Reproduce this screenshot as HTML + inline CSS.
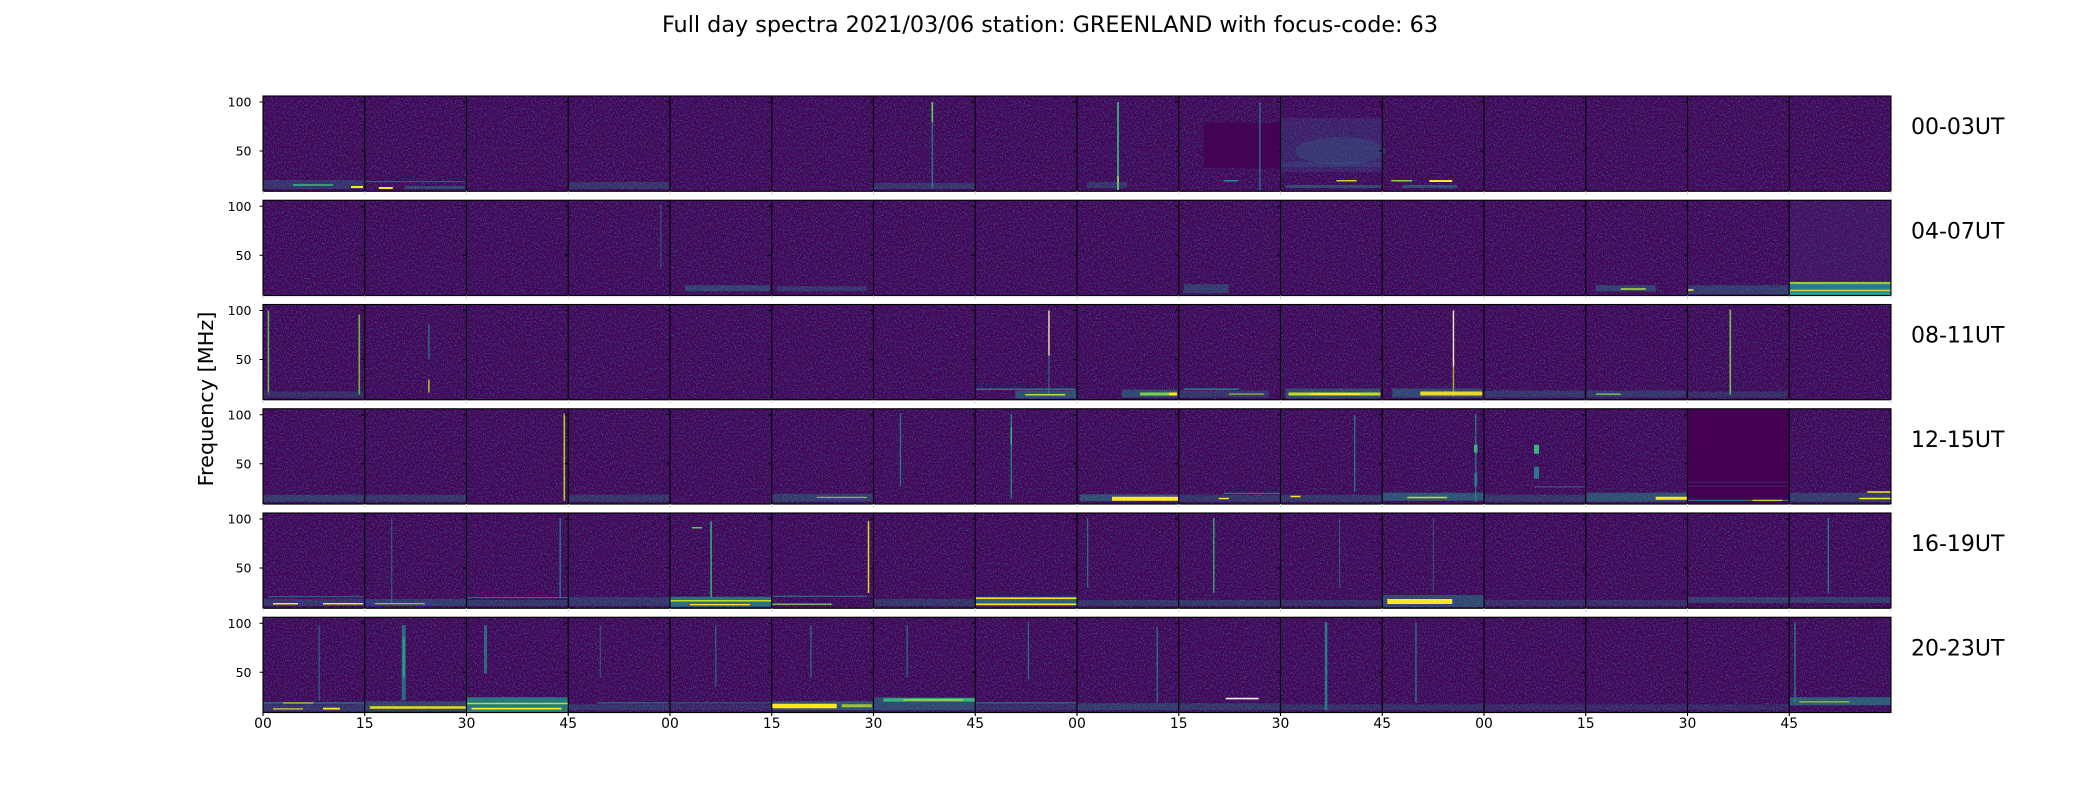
<!DOCTYPE html>
<html>
<head>
<meta charset="utf-8">
<style>
html,body{margin:0;padding:0;background:#fff;}
svg{display:block;}
text{font-family:"DejaVu Sans","Liberation Sans",sans-serif;fill:#000;}
</style>
</head>
<body>
<svg width="2100" height="800" viewBox="0 0 2100 800" xmlns="http://www.w3.org/2000/svg">
<defs>
<filter id="nz" x="0" y="0" width="100%" height="100%" color-interpolation-filters="sRGB">
<feTurbulence type="fractalNoise" baseFrequency="0.9 0.6" numOctaves="2" seed="7"/>
<feColorMatrix type="matrix" values="0 0 0 0 0.23  0 0 0 0 0.32  0 0 0 0 0.55  2.6 0 0 0 -1.15"/>
</filter>
</defs>
<rect x="0" y="0" width="2100" height="800" fill="#fff"/>

<!-- Title -->
<text x="1050" y="32" font-size="22.3" text-anchor="middle">Full day spectra 2021/03/06 station: GREENLAND with focus-code: 63</text>
<!-- Y label -->
<text transform="translate(213,399) rotate(-90)" font-size="20.8" text-anchor="middle">Frequency [MHz]</text>

<!-- Row backgrounds -->
<g fill="#440154">
<rect x="263" y="96" width="1628" height="95.3"/>
<rect x="263" y="200.25" width="1628" height="95.3"/>
<rect x="263" y="304.5" width="1628" height="95.3"/>
<rect x="263" y="408.75" width="1628" height="95.3"/>
<rect x="263" y="513" width="1628" height="95.3"/>
<rect x="263" y="617.25" width="1628" height="95.3"/>
</g>
<g filter="url(#nz)">
<rect x="263" y="96" width="1628" height="95.3" fill="#000"/>
</g>
<g filter="url(#nz)">
<rect x="263" y="200.25" width="1628" height="95.3" fill="#000"/>
</g>
<g filter="url(#nz)">
<rect x="263" y="304.5" width="1628" height="95.3" fill="#000"/>
</g>
<g filter="url(#nz)">
<rect x="263" y="408.75" width="1628" height="95.3" fill="#000"/>
</g>
<g filter="url(#nz)">
<rect x="263" y="513" width="1628" height="95.3" fill="#000"/>
</g>
<g filter="url(#nz)">
<rect x="263" y="617.25" width="1628" height="95.3" fill="#000"/>
</g>

<!-- ROW 0 -->
<g transform="translate(263,96)">
<rect x="0" y="84" width="101.75" height="9" fill="#2a788e" opacity="0.35"/>
<rect x="30" y="88" width="40" height="2" fill="#35b779" opacity="0.8"/>
<rect x="88" y="90" width="12" height="2" fill="#fde725"/>
</g>
<g transform="translate(364.75,96)">
<rect x="0" y="85" width="100" height="1.2" fill="#2a788e" opacity="0.7"/>
<rect x="14" y="91" width="14" height="2" fill="#fde725"/>
<rect x="40" y="90" width="60" height="3" fill="#21918c" opacity="0.45"/>
</g>
<g transform="translate(568.25,96)">
<rect x="0" y="86" width="101" height="7" fill="#21918c" opacity="0.3"/>
</g>
<g transform="translate(873.5,96)">
<rect x="58" y="6" width="1.6" height="86" fill="#21918c" opacity="0.7"/>
<rect x="58" y="6" width="1.6" height="20" fill="#5ec962"/>
<rect x="0" y="87" width="101" height="6" fill="#21918c" opacity="0.3"/>
</g>
<g transform="translate(1077,96)">
<rect x="40" y="6" width="2" height="88" fill="#35b779" opacity="0.85"/>
<rect x="40" y="80" width="2" height="13" fill="#7ad151"/>
<rect x="10" y="86" width="40" height="6" fill="#21918c" opacity="0.3"/>
</g>
<g transform="translate(1178.75,96)">
<rect x="25" y="27" width="76.75" height="45" fill="#440154" opacity="0.9"/>
<rect x="80.5" y="6" width="1.3" height="88" fill="#21918c" opacity="0.85"/>
<rect x="45" y="84" width="14" height="1.5" fill="#21918c"/>
</g>
<g transform="translate(1280.5,96)">
<rect x="0" y="22" width="101.75" height="54" fill="#3b528b" opacity="0.3"/>
<ellipse cx="60" cy="55" rx="45" ry="14" fill="#31688e" opacity="0.3"/>
<rect x="0" y="66" width="101.75" height="5" fill="#31688e" opacity="0.25"/>
<rect x="56" y="84" width="20" height="1.5" fill="#bddf26"/>
<rect x="5" y="89" width="95" height="3" fill="#21918c" opacity="0.45"/>
</g>
<g transform="translate(1382.25,96)">
<rect x="9" y="84" width="21" height="1.5" fill="#7ad151"/>
<rect x="47" y="84" width="23" height="2" fill="#fde725"/>
<rect x="20" y="89" width="55" height="3" fill="#21918c" opacity="0.5"/>
</g>

<!-- ROW 1 -->
<g transform="translate(568.25,200.25)">
<rect x="92" y="4" width="1.2" height="64" fill="#21918c" opacity="0.5"/>
</g>
<g transform="translate(670,200.25)">
<rect x="15" y="85" width="85" height="6" fill="#21918c" opacity="0.4"/>
</g>
<g transform="translate(771.75,200.25)">
<rect x="5" y="86" width="90" height="5" fill="#21918c" opacity="0.3"/>
</g>
<g transform="translate(1178.75,200.25)">
<rect x="5" y="84" width="45" height="9" fill="#21918c" opacity="0.35"/>
</g>
<g transform="translate(1585.75,200.25)">
<rect x="10" y="85" width="60" height="6" fill="#21918c" opacity="0.4"/>
<rect x="35" y="88" width="25" height="1.5" fill="#bddf26"/>
</g>
<g transform="translate(1687.5,200.25)">
<rect x="0" y="85" width="101" height="9" fill="#21918c" opacity="0.35"/>
<rect x="0" y="89" width="6" height="1.5" fill="#fde725"/>
</g>
<g transform="translate(1789.25,200.25)">
<rect x="0" y="0" width="101.75" height="80" fill="#472d7b" opacity="0.3"/>
<rect x="0" y="81.5" width="101.75" height="13.8" fill="#21918c" opacity="0.9"/>
<rect x="0" y="82" width="101.75" height="1.5" fill="#bddf26"/>
<rect x="0" y="86" width="101.75" height="1" fill="#31688e"/>
<rect x="0" y="89.5" width="101.75" height="1.5" fill="#fde725" opacity="0.8"/>
<rect x="0" y="93" width="101.75" height="1" fill="#35b779"/>
</g>

<!-- ROW 2 -->
<g transform="translate(263,304.5)">
<rect x="4.6" y="6" width="1.6" height="82" fill="#5ec962" opacity="0.9"/>
<rect x="95.5" y="10" width="1.6" height="80" fill="#7ad151" opacity="0.85"/>
<rect x="0" y="87" width="101" height="6" fill="#21918c" opacity="0.25"/>
</g>
<g transform="translate(364.75,304.5)">
<rect x="63.5" y="20" width="1.3" height="35" fill="#21918c" opacity="0.8"/>
<rect x="63.5" y="75" width="1.3" height="13" fill="#bddf26"/>
</g>
<g transform="translate(975.25,304.5)">
<rect x="73" y="6" width="1.4" height="45" fill="#e8e8b0"/>
<rect x="73" y="51" width="1.4" height="40" fill="#21918c" opacity="0.6"/>
<rect x="0" y="84" width="100" height="1.5" fill="#21918c" opacity="0.8"/>
<rect x="40" y="86" width="61" height="8" fill="#21918c" opacity="0.5"/>
<rect x="50" y="89.5" width="40" height="1.5" fill="#bddf26"/>
</g>
<g transform="translate(1077,304.5)">
<rect x="45" y="85" width="56" height="8" fill="#21918c" opacity="0.45"/>
<rect x="63" y="88" width="37" height="3" fill="#7ad151"/>
<rect x="92" y="88" width="8" height="3" fill="#fde725"/>
</g>
<g transform="translate(1178.75,304.5)">
<rect x="5" y="84" width="55" height="1.3" fill="#21918c"/>
<rect x="0" y="86" width="90" height="7" fill="#21918c" opacity="0.3"/>
<rect x="50" y="89" width="35" height="1.2" fill="#bddf26" opacity="0.8"/>
</g>
<g transform="translate(1280.5,304.5)">
<rect x="5" y="84" width="95" height="10" fill="#21918c" opacity="0.45"/>
<rect x="8" y="88" width="92" height="3" fill="#bddf26"/>
<rect x="30" y="88.5" width="50" height="2" fill="#fde725"/>
</g>
<g transform="translate(1382.25,304.5)">
<rect x="70.5" y="6" width="1.4" height="56" fill="#f0f0c8"/>
<rect x="70.5" y="62" width="1.4" height="30" fill="#bddf26" opacity="0.8"/>
<rect x="10" y="84" width="90" height="9" fill="#21918c" opacity="0.45"/>
<rect x="38" y="87" width="62" height="4" fill="#fde725" opacity="0.9"/>
</g>
<g transform="translate(1484,304.5)">
<rect x="0" y="86" width="100" height="7" fill="#21918c" opacity="0.3"/>
</g>
<g transform="translate(1585.75,304.5)">
<rect x="0" y="86" width="100" height="7" fill="#21918c" opacity="0.3"/>
<rect x="10" y="89" width="25" height="1.3" fill="#7ad151"/>
</g>
<g transform="translate(1687.5,304.5)">
<rect x="42" y="5" width="1.6" height="85" fill="#7ad151" opacity="0.9"/>
<rect x="0" y="87" width="100" height="6" fill="#21918c" opacity="0.25"/>
</g>

<!-- ROW 3 -->
<g transform="translate(263,408.75)">
<rect x="0" y="86" width="101" height="7" fill="#21918c" opacity="0.35"/>
</g>
<g transform="translate(364.75,408.75)">
<rect x="0" y="86" width="101" height="7" fill="#21918c" opacity="0.3"/>
</g>
<g transform="translate(466.5,408.75)">
<rect x="97" y="5" width="1.6" height="87" fill="#bddf26" opacity="0.9"/>
</g>
<g transform="translate(568.25,408.75)">
<rect x="0" y="86" width="101" height="7" fill="#21918c" opacity="0.3"/>
</g>
<g transform="translate(771.75,408.75)">
<rect x="0" y="85" width="101" height="8" fill="#21918c" opacity="0.35"/>
<rect x="45" y="88" width="50" height="1.3" fill="#bddf26" opacity="0.7"/>
</g>
<g transform="translate(873.5,408.75)">
<rect x="26.3" y="5" width="1.3" height="72" fill="#21918c" opacity="0.8"/>
</g>
<g transform="translate(975.25,408.75)">
<rect x="35.3" y="5" width="1.5" height="85" fill="#21918c" opacity="0.8"/>
<rect x="35.3" y="18" width="1.5" height="18" fill="#35b779"/>
</g>
<g transform="translate(1077,408.75)">
<rect x="3" y="85.5" width="98" height="7" fill="#21918c" opacity="0.5"/>
<rect x="35" y="88" width="66" height="4" fill="#fde725"/>
</g>
<g transform="translate(1178.75,408.75)">
<rect x="45" y="84" width="56" height="1.2" fill="#21918c" opacity="0.8"/>
<rect x="0" y="86" width="101" height="7" fill="#21918c" opacity="0.3"/>
<rect x="40" y="89" width="10" height="1.5" fill="#fde725"/>
</g>
<g transform="translate(1280.5,408.75)">
<rect x="73.5" y="6" width="1.3" height="77" fill="#21918c" opacity="0.8"/>
<rect x="0" y="86" width="101" height="7" fill="#21918c" opacity="0.3"/>
<rect x="10" y="87" width="10" height="1.5" fill="#fde725"/>
</g>
<g transform="translate(1382.25,408.75)">
<rect x="92.8" y="5" width="1.4" height="88" fill="#21918c" opacity="0.75"/>
<rect x="91.8" y="36" width="3.4" height="8" fill="#35b779"/>
<rect x="92" y="64" width="3" height="13" fill="#2a788e"/>
<rect x="0" y="84" width="101" height="8" fill="#21918c" opacity="0.55"/>
<rect x="25" y="88" width="40" height="1.5" fill="#bddf26"/>
</g>
<g transform="translate(1484,408.75)">
<rect x="50" y="36" width="5" height="9" fill="#35b779"/>
<rect x="50" y="58" width="5" height="12" fill="#2a788e"/>
<rect x="50" y="77.5" width="51" height="1.3" fill="#3b528b"/>
<rect x="0" y="86" width="101" height="7" fill="#21918c" opacity="0.3"/>
</g>
<g transform="translate(1585.75,408.75)">
<rect x="0" y="84" width="101" height="9" fill="#21918c" opacity="0.5"/>
<rect x="70" y="88" width="31" height="3" fill="#fde725"/>
</g>
<g transform="translate(1687.5,408.75)">
<rect x="0" y="0" width="101.75" height="95.3" fill="#440154"/>
<rect x="0" y="73" width="101.75" height="1" fill="#3b528b" opacity="0.5"/>
<rect x="0" y="77" width="101.75" height="1" fill="#3b528b" opacity="0.4"/>
<rect x="0" y="91" width="101.75" height="1.3" fill="#21918c" opacity="0.8"/>
<rect x="65" y="91" width="30" height="1.3" fill="#bddf26"/>
</g>
<g transform="translate(1789.25,408.75)">
<rect x="0" y="84" width="101.75" height="9" fill="#21918c" opacity="0.35"/>
<rect x="78" y="82.5" width="23.75" height="1.5" fill="#fde725"/>
<rect x="70" y="89" width="31.75" height="1.5" fill="#fde725"/>
</g>

<!-- ROW 4 -->
<g transform="translate(263,513)">
<rect x="5" y="83" width="96" height="1.3" fill="#21918c" opacity="0.6"/>
<rect x="0" y="86" width="101" height="7" fill="#21918c" opacity="0.3"/>
<rect x="10" y="90" width="25" height="1.5" fill="#fde725"/>
<rect x="60" y="90" width="40" height="1.5" fill="#fde725"/>
</g>
<g transform="translate(364.75,513)">
<rect x="26.3" y="5" width="1.3" height="85" fill="#21918c" opacity="0.55"/>
<rect x="0" y="86" width="101" height="7" fill="#21918c" opacity="0.35"/>
<rect x="10" y="90" width="50" height="1.3" fill="#bddf26" opacity="0.8"/>
</g>
<g transform="translate(466.5,513)">
<rect x="93" y="5" width="1.4" height="80" fill="#21918c" opacity="0.8"/>
<rect x="0" y="84" width="101" height="1.2" fill="#21918c" opacity="0.7"/>
<rect x="0" y="87" width="101" height="6" fill="#21918c" opacity="0.3"/>
</g>
<g transform="translate(568.25,513)">
<rect x="0" y="84" width="101" height="9" fill="#21918c" opacity="0.3"/>
</g>
<g transform="translate(670,513)">
<rect x="22" y="14" width="10" height="1.5" fill="#5ec962"/>
<rect x="40.3" y="8.5" width="1.6" height="76" fill="#35b779" opacity="0.9"/>
<rect x="0" y="83.7" width="101.75" height="10" fill="#21918c" opacity="0.75"/>
<rect x="0" y="87" width="101.75" height="1.5" fill="#bddf26"/>
<rect x="20" y="91" width="60" height="1.3" fill="#fde725"/>
</g>
<g transform="translate(771.75,513)">
<rect x="96" y="8" width="1.5" height="72" fill="#fde725" opacity="0.9"/>
<rect x="0" y="82.7" width="95" height="1.2" fill="#21918c" opacity="0.7"/>
<rect x="0" y="90.5" width="60" height="1.5" fill="#7ad151" opacity="0.9"/>
</g>
<g transform="translate(873.5,513)">
<rect x="0" y="86" width="101" height="7" fill="#21918c" opacity="0.3"/>
</g>
<g transform="translate(975.25,513)">
<rect x="0" y="83.7" width="101.75" height="9.5" fill="#21918c" opacity="0.65"/>
<rect x="0" y="84.5" width="101.75" height="1.5" fill="#fde725"/>
<rect x="0" y="90.5" width="101.75" height="1.5" fill="#fde725"/>
</g>
<g transform="translate(1077,513)">
<rect x="10" y="5" width="1.3" height="70" fill="#21918c" opacity="0.7"/>
<rect x="0" y="87" width="101" height="6" fill="#21918c" opacity="0.3"/>
</g>
<g transform="translate(1178.75,513)">
<rect x="34.3" y="5" width="1.5" height="75" fill="#35b779" opacity="0.85"/>
<rect x="0" y="87" width="101" height="6" fill="#21918c" opacity="0.3"/>
</g>
<g transform="translate(1280.5,513)">
<rect x="58.5" y="5" width="1.2" height="70" fill="#21918c" opacity="0.5"/>
<rect x="0" y="87" width="101" height="6" fill="#21918c" opacity="0.25"/>
</g>
<g transform="translate(1382.25,513)">
<rect x="50.5" y="5" width="1.2" height="75" fill="#21918c" opacity="0.45"/>
<rect x="0" y="82" width="101.75" height="12" fill="#21918c" opacity="0.45"/>
<rect x="5" y="86" width="65" height="5" fill="#fde725"/>
</g>
<g transform="translate(1484,513)">
<rect x="0" y="87" width="101" height="6" fill="#21918c" opacity="0.25"/>
</g>
<g transform="translate(1585.75,513)">
<rect x="0" y="87" width="101" height="6" fill="#21918c" opacity="0.25"/>
</g>
<g transform="translate(1687.5,513)">
<rect x="0" y="84" width="101" height="6" fill="#21918c" opacity="0.35"/>
</g>
<g transform="translate(1789.25,513)">
<rect x="38.3" y="5" width="1.5" height="75" fill="#21918c" opacity="0.75"/>
<rect x="0" y="84" width="101" height="6" fill="#21918c" opacity="0.35"/>
</g>

<!-- ROW 5 -->
<g transform="translate(263,617.25)">
<rect x="55.5" y="8" width="1.3" height="75" fill="#21918c" opacity="0.6"/>
<rect x="0" y="85" width="101.75" height="1.4" fill="#21918c" opacity="0.8"/>
<rect x="20" y="85" width="30" height="1.4" fill="#bddf26" opacity="0.8"/>
<rect x="0" y="87" width="101.75" height="7" fill="#21918c" opacity="0.3"/>
<rect x="60" y="90.5" width="17" height="1.8" fill="#fde725"/>
<rect x="10" y="91" width="30" height="1.3" fill="#fde725" opacity="0.8"/>
</g>
<g transform="translate(364.75,617.25)">
<rect x="37" y="8" width="4" height="75" fill="#21918c" opacity="0.7"/>
<rect x="38" y="20" width="2" height="40" fill="#35b779" opacity="0.7"/>
<rect x="0" y="84" width="101.75" height="10" fill="#21918c" opacity="0.4"/>
<rect x="5" y="89" width="96" height="2.5" fill="#fde725" opacity="0.9"/>
</g>
<g transform="translate(466.5,617.25)">
<rect x="17.5" y="8" width="3" height="48" fill="#21918c" opacity="0.7"/>
<rect x="0" y="80" width="101.75" height="15" fill="#21918c" opacity="0.8"/>
<rect x="0" y="85.5" width="101.75" height="1.5" fill="#bddf26"/>
<rect x="5" y="90.5" width="90" height="1.8" fill="#fde725"/>
</g>
<g transform="translate(568.25,617.25)">
<rect x="31.5" y="8" width="1.2" height="52" fill="#21918c" opacity="0.5"/>
<rect x="30" y="85" width="70" height="1.2" fill="#21918c" opacity="0.8"/>
<rect x="0" y="87" width="101" height="6" fill="#21918c" opacity="0.3"/>
</g>
<g transform="translate(670,617.25)">
<rect x="45.2" y="8" width="1.2" height="62" fill="#21918c" opacity="0.7"/>
<rect x="0" y="85" width="101" height="1.2" fill="#21918c" opacity="0.6"/>
<rect x="0" y="87" width="101" height="6" fill="#21918c" opacity="0.2"/>
</g>
<g transform="translate(771.75,617.25)">
<rect x="38.5" y="8" width="1.3" height="52" fill="#21918c" opacity="0.7"/>
<rect x="0" y="84" width="101.75" height="9" fill="#21918c" opacity="0.5"/>
<rect x="0" y="86.5" width="65" height="4.5" fill="#fde725"/>
<rect x="70" y="87" width="30" height="3" fill="#bddf26" opacity="0.8"/>
</g>
<g transform="translate(873.5,617.25)">
<rect x="33" y="8" width="1.3" height="52" fill="#21918c" opacity="0.7"/>
<rect x="0" y="80" width="101.75" height="13" fill="#21918c" opacity="0.45"/>
<rect x="10" y="81" width="91.75" height="3.4" fill="#35b779"/>
<rect x="30" y="82" width="60" height="1.2" fill="#bddf26"/>
</g>
<g transform="translate(975.25,617.25)">
<rect x="52.5" y="5" width="1.3" height="57" fill="#21918c" opacity="0.7"/>
<rect x="0" y="85" width="101.75" height="1.3" fill="#21918c" opacity="0.8"/>
<rect x="0" y="87" width="101" height="6" fill="#21918c" opacity="0.25"/>
</g>
<g transform="translate(1077,617.25)">
<rect x="79.5" y="10" width="1.4" height="75" fill="#21918c" opacity="0.7"/>
<rect x="0" y="86" width="101" height="7" fill="#21918c" opacity="0.35"/>
</g>
<g transform="translate(1178.75,617.25)">
<rect x="47" y="80.5" width="33" height="1.6" fill="#f0f0e0"/>
<rect x="0" y="86" width="101" height="7" fill="#21918c" opacity="0.3"/>
</g>
<g transform="translate(1280.5,617.25)">
<rect x="44.3" y="5" width="2.5" height="88" fill="#21918c" opacity="0.85"/>
<rect x="0" y="87" width="101" height="6" fill="#21918c" opacity="0.25"/>
</g>
<g transform="translate(1382.25,617.25)">
<rect x="33" y="5" width="1.4" height="80" fill="#21918c" opacity="0.75"/>
<rect x="0" y="87" width="101" height="6" fill="#21918c" opacity="0.25"/>
</g>
<g transform="translate(1484,617.25)">
<rect x="0" y="87" width="101" height="6" fill="#21918c" opacity="0.2"/>
</g>
<g transform="translate(1585.75,617.25)">
<rect x="0" y="87" width="101" height="6" fill="#21918c" opacity="0.2"/>
</g>
<g transform="translate(1687.5,617.25)">
<rect x="0" y="87" width="101" height="6" fill="#21918c" opacity="0.2"/>
</g>
<g transform="translate(1789.25,617.25)">
<rect x="5" y="5" width="1.5" height="80" fill="#21918c" opacity="0.75"/>
<rect x="0" y="80" width="101.75" height="8" fill="#21918c" opacity="0.6"/>
<rect x="10" y="84" width="50" height="1.2" fill="#bddf26" opacity="0.8"/>
</g>

<!-- Frames and dividers -->
<g fill="none" stroke="#000" stroke-width="1.1">
<rect x="263" y="96" width="1628" height="95.3"/>
<rect x="263" y="200.25" width="1628" height="95.3"/>
<rect x="263" y="304.5" width="1628" height="95.3"/>
<rect x="263" y="408.75" width="1628" height="95.3"/>
<rect x="263" y="513" width="1628" height="95.3"/>
<rect x="263" y="617.25" width="1628" height="95.3"/>
</g>
<g stroke="#000" stroke-width="1.1">
<path d="M364.75 96V191.3M466.5 96V191.3M568.25 96V191.3M670 96V191.3M771.75 96V191.3M873.5 96V191.3M975.25 96V191.3M1077 96V191.3M1178.75 96V191.3M1280.5 96V191.3M1382.25 96V191.3M1484 96V191.3M1585.75 96V191.3M1687.5 96V191.3M1789.25 96V191.3"/>
<path d="M364.75 200.25V295.55M466.5 200.25V295.55M568.25 200.25V295.55M670 200.25V295.55M771.75 200.25V295.55M873.5 200.25V295.55M975.25 200.25V295.55M1077 200.25V295.55M1178.75 200.25V295.55M1280.5 200.25V295.55M1382.25 200.25V295.55M1484 200.25V295.55M1585.75 200.25V295.55M1687.5 200.25V295.55M1789.25 200.25V295.55"/>
<path d="M364.75 304.5V399.8M466.5 304.5V399.8M568.25 304.5V399.8M670 304.5V399.8M771.75 304.5V399.8M873.5 304.5V399.8M975.25 304.5V399.8M1077 304.5V399.8M1178.75 304.5V399.8M1280.5 304.5V399.8M1382.25 304.5V399.8M1484 304.5V399.8M1585.75 304.5V399.8M1687.5 304.5V399.8M1789.25 304.5V399.8"/>
<path d="M364.75 408.75V504.05M466.5 408.75V504.05M568.25 408.75V504.05M670 408.75V504.05M771.75 408.75V504.05M873.5 408.75V504.05M975.25 408.75V504.05M1077 408.75V504.05M1178.75 408.75V504.05M1280.5 408.75V504.05M1382.25 408.75V504.05M1484 408.75V504.05M1585.75 408.75V504.05M1687.5 408.75V504.05M1789.25 408.75V504.05"/>
<path d="M364.75 513V608.3M466.5 513V608.3M568.25 513V608.3M670 513V608.3M771.75 513V608.3M873.5 513V608.3M975.25 513V608.3M1077 513V608.3M1178.75 513V608.3M1280.5 513V608.3M1382.25 513V608.3M1484 513V608.3M1585.75 513V608.3M1687.5 513V608.3M1789.25 513V608.3"/>
<path d="M364.75 617.25V712.55M466.5 617.25V712.55M568.25 617.25V712.55M670 617.25V712.55M771.75 617.25V712.55M873.5 617.25V712.55M975.25 617.25V712.55M1077 617.25V712.55M1178.75 617.25V712.55M1280.5 617.25V712.55M1382.25 617.25V712.55M1484 617.25V712.55M1585.75 617.25V712.55M1687.5 617.25V712.55M1789.25 617.25V712.55"/>
</g>

<!-- Y ticks (100 and 50) at left edge of each panel -->
<g stroke="#000" stroke-width="1.1">
<path d="M259.5 102H263M259.5 151H263M361.25 102H364.75M361.25 151H364.75M463 102H466.5M463 151H466.5M564.75 102H568.25M564.75 151H568.25M666.5 102H670M666.5 151H670M768.25 102H771.75M768.25 151H771.75M870 102H873.5M870 151H873.5M971.75 102H975.25M971.75 151H975.25M1073.5 102H1077M1073.5 151H1077M1175.25 102H1178.75M1175.25 151H1178.75M1277 102H1280.5M1277 151H1280.5M1378.75 102H1382.25M1378.75 151H1382.25M1480.5 102H1484M1480.5 151H1484M1582.25 102H1585.75M1582.25 151H1585.75M1684 102H1687.5M1684 151H1687.5M1785.75 102H1789.25M1785.75 151H1789.25"/>
<path transform="translate(0,104.25)" d="M259.5 102H263M259.5 151H263M361.25 102H364.75M361.25 151H364.75M463 102H466.5M463 151H466.5M564.75 102H568.25M564.75 151H568.25M666.5 102H670M666.5 151H670M768.25 102H771.75M768.25 151H771.75M870 102H873.5M870 151H873.5M971.75 102H975.25M971.75 151H975.25M1073.5 102H1077M1073.5 151H1077M1175.25 102H1178.75M1175.25 151H1178.75M1277 102H1280.5M1277 151H1280.5M1378.75 102H1382.25M1378.75 151H1382.25M1480.5 102H1484M1480.5 151H1484M1582.25 102H1585.75M1582.25 151H1585.75M1684 102H1687.5M1684 151H1687.5M1785.75 102H1789.25M1785.75 151H1789.25"/>
<path transform="translate(0,208.5)" d="M259.5 102H263M259.5 151H263M361.25 102H364.75M361.25 151H364.75M463 102H466.5M463 151H466.5M564.75 102H568.25M564.75 151H568.25M666.5 102H670M666.5 151H670M768.25 102H771.75M768.25 151H771.75M870 102H873.5M870 151H873.5M971.75 102H975.25M971.75 151H975.25M1073.5 102H1077M1073.5 151H1077M1175.25 102H1178.75M1175.25 151H1178.75M1277 102H1280.5M1277 151H1280.5M1378.75 102H1382.25M1378.75 151H1382.25M1480.5 102H1484M1480.5 151H1484M1582.25 102H1585.75M1582.25 151H1585.75M1684 102H1687.5M1684 151H1687.5M1785.75 102H1789.25M1785.75 151H1789.25"/>
<path transform="translate(0,312.75)" d="M259.5 102H263M259.5 151H263M361.25 102H364.75M361.25 151H364.75M463 102H466.5M463 151H466.5M564.75 102H568.25M564.75 151H568.25M666.5 102H670M666.5 151H670M768.25 102H771.75M768.25 151H771.75M870 102H873.5M870 151H873.5M971.75 102H975.25M971.75 151H975.25M1073.5 102H1077M1073.5 151H1077M1175.25 102H1178.75M1175.25 151H1178.75M1277 102H1280.5M1277 151H1280.5M1378.75 102H1382.25M1378.75 151H1382.25M1480.5 102H1484M1480.5 151H1484M1582.25 102H1585.75M1582.25 151H1585.75M1684 102H1687.5M1684 151H1687.5M1785.75 102H1789.25M1785.75 151H1789.25"/>
<path transform="translate(0,417)" d="M259.5 102H263M259.5 151H263M361.25 102H364.75M361.25 151H364.75M463 102H466.5M463 151H466.5M564.75 102H568.25M564.75 151H568.25M666.5 102H670M666.5 151H670M768.25 102H771.75M768.25 151H771.75M870 102H873.5M870 151H873.5M971.75 102H975.25M971.75 151H975.25M1073.5 102H1077M1073.5 151H1077M1175.25 102H1178.75M1175.25 151H1178.75M1277 102H1280.5M1277 151H1280.5M1378.75 102H1382.25M1378.75 151H1382.25M1480.5 102H1484M1480.5 151H1484M1582.25 102H1585.75M1582.25 151H1585.75M1684 102H1687.5M1684 151H1687.5M1785.75 102H1789.25M1785.75 151H1789.25"/>
<path transform="translate(0,521.25)" d="M259.5 102H263M259.5 151H263M361.25 102H364.75M361.25 151H364.75M463 102H466.5M463 151H466.5M564.75 102H568.25M564.75 151H568.25M666.5 102H670M666.5 151H670M768.25 102H771.75M768.25 151H771.75M870 102H873.5M870 151H873.5M971.75 102H975.25M971.75 151H975.25M1073.5 102H1077M1073.5 151H1077M1175.25 102H1178.75M1175.25 151H1178.75M1277 102H1280.5M1277 151H1280.5M1378.75 102H1382.25M1378.75 151H1382.25M1480.5 102H1484M1480.5 151H1484M1582.25 102H1585.75M1582.25 151H1585.75M1684 102H1687.5M1684 151H1687.5M1785.75 102H1789.25M1785.75 151H1789.25"/>
</g>

<!-- faint gray ticks below rows 0-4 -->
<g stroke="#d4d4d4" stroke-width="1">
<path d="M263 191.3v3.5M364.75 191.3v3.5M466.5 191.3v3.5M568.25 191.3v3.5M670 191.3v3.5M771.75 191.3v3.5M873.5 191.3v3.5M975.25 191.3v3.5M1077 191.3v3.5M1178.75 191.3v3.5M1280.5 191.3v3.5M1382.25 191.3v3.5M1484 191.3v3.5M1585.75 191.3v3.5M1687.5 191.3v3.5M1789.25 191.3v3.5M1891 191.3v3.5"/>
<path transform="translate(0,104.25)" d="M263 191.3v3.5M364.75 191.3v3.5M466.5 191.3v3.5M568.25 191.3v3.5M670 191.3v3.5M771.75 191.3v3.5M873.5 191.3v3.5M975.25 191.3v3.5M1077 191.3v3.5M1178.75 191.3v3.5M1280.5 191.3v3.5M1382.25 191.3v3.5M1484 191.3v3.5M1585.75 191.3v3.5M1687.5 191.3v3.5M1789.25 191.3v3.5M1891 191.3v3.5"/>
<path transform="translate(0,208.5)" d="M263 191.3v3.5M364.75 191.3v3.5M466.5 191.3v3.5M568.25 191.3v3.5M670 191.3v3.5M771.75 191.3v3.5M873.5 191.3v3.5M975.25 191.3v3.5M1077 191.3v3.5M1178.75 191.3v3.5M1280.5 191.3v3.5M1382.25 191.3v3.5M1484 191.3v3.5M1585.75 191.3v3.5M1687.5 191.3v3.5M1789.25 191.3v3.5M1891 191.3v3.5"/>
<path transform="translate(0,312.75)" d="M263 191.3v3.5M364.75 191.3v3.5M466.5 191.3v3.5M568.25 191.3v3.5M670 191.3v3.5M771.75 191.3v3.5M873.5 191.3v3.5M975.25 191.3v3.5M1077 191.3v3.5M1178.75 191.3v3.5M1280.5 191.3v3.5M1382.25 191.3v3.5M1484 191.3v3.5M1585.75 191.3v3.5M1687.5 191.3v3.5M1789.25 191.3v3.5M1891 191.3v3.5"/>
<path transform="translate(0,417)" d="M263 191.3v3.5M364.75 191.3v3.5M466.5 191.3v3.5M568.25 191.3v3.5M670 191.3v3.5M771.75 191.3v3.5M873.5 191.3v3.5M975.25 191.3v3.5M1077 191.3v3.5M1178.75 191.3v3.5M1280.5 191.3v3.5M1382.25 191.3v3.5M1484 191.3v3.5M1585.75 191.3v3.5M1687.5 191.3v3.5M1789.25 191.3v3.5M1891 191.3v3.5"/>
</g>

<!-- bottom x ticks -->
<g stroke="#000" stroke-width="1.1">
<path d="M263 712.5v3.5M364.75 712.5v3.5M466.5 712.5v3.5M568.25 712.5v3.5M670 712.5v3.5M771.75 712.5v3.5M873.5 712.5v3.5M975.25 712.5v3.5M1077 712.5v3.5M1178.75 712.5v3.5M1280.5 712.5v3.5M1382.25 712.5v3.5M1484 712.5v3.5M1585.75 712.5v3.5M1687.5 712.5v3.5M1789.25 712.5v3.5"/>
</g>

<!-- Y tick labels -->
<g font-size="12.5" text-anchor="end">
<text x="251.5" y="106.7">100</text><text x="251.5" y="155.7">50</text>
<text x="251.5" y="210.95">100</text><text x="251.5" y="259.95">50</text>
<text x="251.5" y="315.2">100</text><text x="251.5" y="364.2">50</text>
<text x="251.5" y="419.45">100</text><text x="251.5" y="468.45">50</text>
<text x="251.5" y="523.7">100</text><text x="251.5" y="572.7">50</text>
<text x="251.5" y="627.95">100</text><text x="251.5" y="676.95">50</text>
</g>

<!-- X tick labels -->
<g font-size="13.9" text-anchor="middle">
<text x="263" y="728">00</text>
<text x="364.75" y="728">15</text>
<text x="466.5" y="728">30</text>
<text x="568.25" y="728">45</text>
<text x="670" y="728">00</text>
<text x="771.75" y="728">15</text>
<text x="873.5" y="728">30</text>
<text x="975.25" y="728">45</text>
<text x="1077" y="728">00</text>
<text x="1178.75" y="728">15</text>
<text x="1280.5" y="728">30</text>
<text x="1382.25" y="728">45</text>
<text x="1484" y="728">00</text>
<text x="1585.75" y="728">15</text>
<text x="1687.5" y="728">30</text>
<text x="1789.25" y="728">45</text>
</g>

<!-- Row labels -->
<g font-size="22">
<text x="1911" y="134">00-03UT</text>
<text x="1911" y="238.25">04-07UT</text>
<text x="1911" y="342.5">08-11UT</text>
<text x="1911" y="446.75">12-15UT</text>
<text x="1911" y="551">16-19UT</text>
<text x="1911" y="655.25">20-23UT</text>
</g>
</svg>
</body>
</html>
